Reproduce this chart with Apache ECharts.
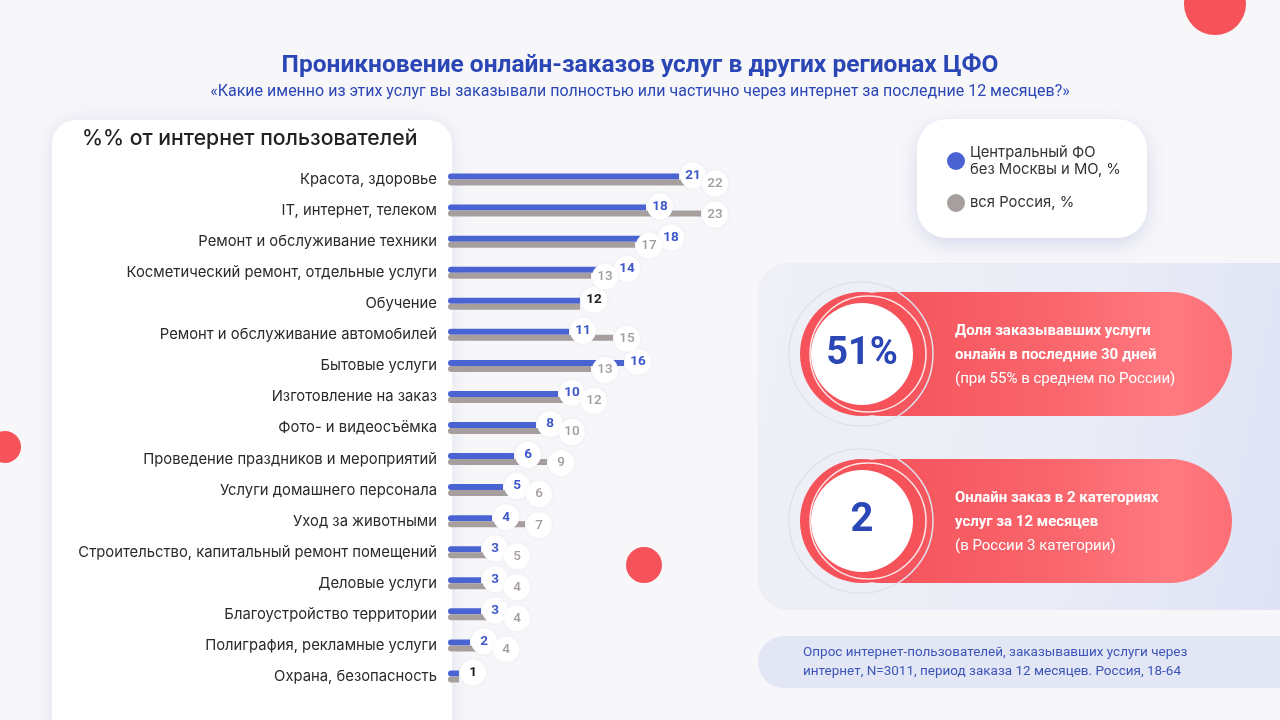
<!DOCTYPE html>
<html><head><meta charset="utf-8">
<script src="https://cdn.jsdelivr.net/npm/echarts@6/dist/echarts.min.js"></script>
<style>html,body{margin:0;padding:0;background:#f7f7fa}#c{width:1280px;height:720px}</style>
</head><body><div id="c"></div>
<script>
const categories = [
  'Красота, здоровье','IT, интернет, телеком','Ремонт и обслуживание техники',
  'Косметический ремонт, отдельные услуги','Обучение','Ремонт и обслуживание автомобилей',
  'Бытовые услуги','Изготовление на заказ','Фото- и видеосъёмка',
  'Проведение праздников и мероприятий','Услуги домашнего персонала','Уход за животными',
  'Строительство, капитальный ремонт помещений','Деловые услуги','Благоустройство территории',
  'Полиграфия, рекламные услуги','Охрана, безопасность'
];
const cfoValues   = [21,18,18,14,12,11,16,10,8,6,5,4,3,3,3,2,1];
const russiaValues= [22,23,17,13,12,15,13,12,10,9,6,7,5,4,4,4,1];
const seriesNames = ['Центральный ФО\nбез Москвы и МО, %','вся Россия, %'];
const kpiValues = ['51%','2'];
const kpiTexts = [
  ['Доля заказывавших услуги','онлайн в последние 30 дней','(при 55% в среднем по России)'],
  ['Онлайн заказ в 2 категориях','услуг за 12 месяцев','(в России 3 категории)']
];

const BLUE='#4a63d2', GRAY='#a79e9e', RED='#f5525a', NAVY='#2b46b5';
const gridLeft=448, gridWidth=330, xMax=30, k=gridWidth/xMax, minSep=22;

const blueData = cfoValues.map((b,i)=>{
  const g=russiaValues[i]; let dx=0;
  if (b>g && (b-g)*k<minSep) dx=minSep-(b-g)*k;
  return {value:b, label:{offset:[dx,-1]}};
});
const grayData = russiaValues.map((g,i)=>{
  const b=cfoValues[i]; let dx=0;
  if (g===b) return {value:g, label:{show:false}};
  if (g>b && (g-b)*k<minSep) dx=minSep-(g-b)*k;
  return {value:g, label:{offset:[dx,1]}};
});

const circ = (w)=>({width:w,height:w,lineHeight:w,align:'center',backgroundColor:'#fff',borderRadius:w/2,
  shadowColor:'rgba(80,90,140,0.08)',shadowBlur:4});

const graphics = [
  {type:'rect',shape:{x:52,y:120,width:400,height:640,r:24},style:{fill:'#fff',shadowColor:'rgba(90,105,180,0.14)',shadowBlur:18},z:-10},
  {type:'text',left:82,top:128,style:{text:'%% от интернет пользователей',font:'500 21.2px Inter',fill:'#222'},z:-5},
  {type:'rect',shape:{x:758,y:263,width:560,height:347,r:30},style:{fill:{type:'linear',x:0,y:0,x2:1,y2:0.3,colorStops:[{offset:0,color:'#eff0f6'},{offset:0.6,color:'#eaecf6'},{offset:1,color:'#dfe3f5'}]}},z:-10},
  {type:'rect',shape:{x:758,y:636,width:560,height:52,r:26},style:{fill:'#e3e7f5'},z:-10},
  {type:'text',left:803,top:643,style:{text:'Опрос интернет-пользователей, заказывавших услуги через\nинтернет, N=3011, период заказа 12 месяцев. Россия, 18-64',font:'13.5px Roboto',fill:'#3c55b8',lineHeight:19},z:-5},
  {type:'rect',shape:{x:917,y:119,width:230,height:119,r:30},style:{fill:'#fff',shadowColor:'rgba(90,105,180,0.22)',shadowBlur:20,shadowOffsetY:6},z:-10},
  {type:'circle',shape:{cx:1215,cy:4,r:31},style:{fill:RED},z:-9},
  {type:'circle',shape:{cx:5,cy:447,r:16},style:{fill:RED},z:-9},
  {type:'circle',shape:{cx:644,cy:565,r:18},style:{fill:RED},z:-9}
];
[354,521].forEach((cy,i)=>{
  graphics.push(
    {type:'rect',shape:{x:820,y:cy-62,width:412,height:124,r:62},style:{fill:{type:'linear',x:0,y:0,x2:1,y2:0,colorStops:[{offset:0,color:'#f44d56'},{offset:0.55,color:'#f9646b'},{offset:0.85,color:'#ff7a80'},{offset:1,color:'#fd6e75'}]}},z:-8},
    {type:'circle',shape:{cx:861,cy:cy,r:72},style:{fill:'none',stroke:'#dfe2ee',lineWidth:1.5},z:-7},
    {type:'circle',shape:{cx:862,cy:cy,r:62},style:{fill:RED},z:-7},
    {type:'circle',shape:{cx:868,cy:cy,r:58},style:{fill:'none',stroke:'rgba(255,255,255,0.85)',lineWidth:1.5},z:-7},
    {type:'circle',shape:{cx:862,cy:cy,r:51},style:{fill:'#fff'},z:-6},
    {type:'text',x:862,y:cy,style:{text:kpiValues[i],font:'bold '+(i===0?38:40)+'px Roboto',fill:NAVY,align:'center',verticalAlign:'middle'},z:-5},
    {type:'text',left:955,top:cy-30,style:{rich:{b:{font:'bold 15px Roboto',fill:'#fff',lineHeight:24},r:{font:'15px Roboto',fill:'#fff',lineHeight:24}},
      text:'{b|'+kpiTexts[i][0]+'}\n{b|'+kpiTexts[i][1]+'}\n{r|'+kpiTexts[i][2]+'}'},z:-5}
  );
});

const chart = echarts.init(document.getElementById('c'));
chart.setOption({
  backgroundColor:'#f7f7fa',
  animation:false,
  title:{text:'Проникновение онлайн-заказов услуг в других регионах ЦФО',
    subtext:'«Какие именно из этих услуг вы заказывали полностью или частично через интернет за последние 12 месяцев?»',
    left:'center',top:48,itemGap:6,
    textStyle:{fontFamily:'Roboto',fontWeight:'bold',fontSize:24.5,color:NAVY},
    subtextStyle:{fontFamily:'Roboto',fontSize:16,color:NAVY}},
  legend:{orient:'vertical',left:942,top:139,itemWidth:18,itemHeight:18,itemGap:16,icon:'circle',
    textStyle:{fontFamily:'Inter',fontSize:14.8,color:'#333',lineHeight:17},data:seriesNames},
  grid:{left:gridLeft,width:gridWidth,top:164,bottom:28},
  xAxis:{type:'value',min:0,max:xMax,show:false},
  yAxis:{type:'category',data:categories,inverse:true,axisLine:{show:false},axisTick:{show:false},
    axisLabel:{margin:11,fontFamily:'Inter',fontSize:14.8,color:'#2a2a2a'}},
  series:[
    {name:seriesNames[0],type:'bar',data:blueData,barWidth:6,barGap:'0%',itemStyle:{color:BLUE,borderRadius:[3,0,0,3]},
     label:{show:true,position:'right',distance:1,
      formatter:p=>(cfoValues[p.dataIndex]===russiaValues[p.dataIndex]?'{k|':'{c|')+p.value+'}',
      rich:{c:Object.assign(circ(26),{color:'#3f58c8',fontFamily:'Roboto',fontWeight:'bold',fontSize:13.5}),
            k:Object.assign(circ(26),{color:'#1e1e1e',fontFamily:'Roboto',fontWeight:'bold',fontSize:13.5})}}},
    {name:seriesNames[1],type:'bar',data:grayData,barWidth:6,itemStyle:{color:GRAY,borderRadius:[3,0,0,3]},
     label:{show:true,position:'right',distance:1,formatter:p=>'{c|'+p.value+'}',
      rich:{c:Object.assign(circ(26),{color:'#a39c9c',fontFamily:'Roboto',fontWeight:500,fontSize:13.5})}}}
  ],
  graphic:graphics
});
</script></body></html>
